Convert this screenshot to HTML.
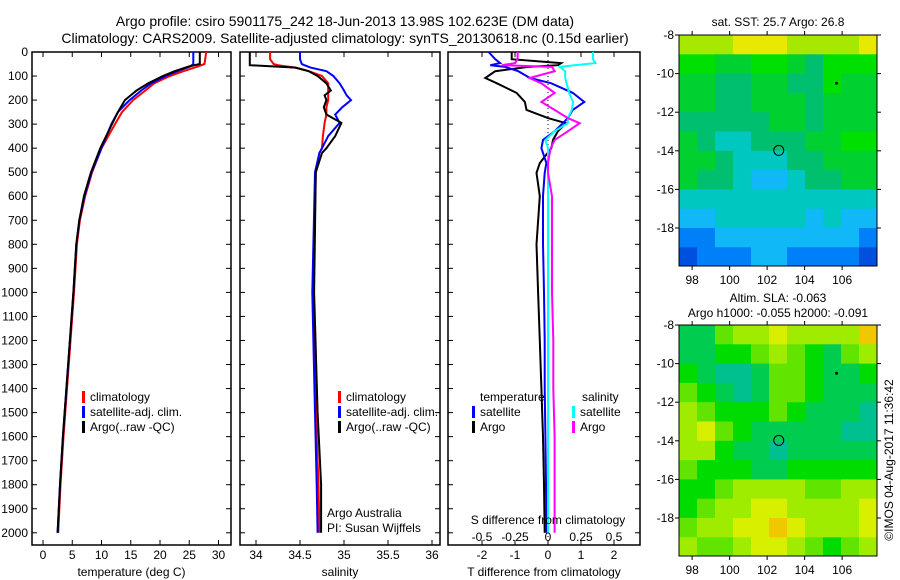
<!DOCTYPE html>
<html><head><meta charset="utf-8">
<style>
html,body{margin:0;padding:0;background:#fff;}
svg{display:block;font-family:"Liberation Sans",sans-serif;}
text{fill:#000;}
</style></head>
<body>
<svg id="c" width="900" height="580" viewBox="0 0 900 580" xmlns="http://www.w3.org/2000/svg">
<text x="345" y="26" font-size="14" text-anchor="middle">Argo profile: csiro 5901175_242 18-Jun-2013 13.98S 102.623E (DM data)</text>
<text x="345" y="43" font-size="14" text-anchor="middle">Climatology: CARS2009. Satellite-adjusted climatology: synTS_20130618.nc (0.15d earlier)</text>
<text x="778" y="26" font-size="12" text-anchor="middle">sat. SST: 25.7 Argo: 26.8</text>
<text x="778" y="302" font-size="12" text-anchor="middle">Altim. SLA: -0.063</text>
<text x="778" y="317" font-size="12" text-anchor="middle">Argo h1000: -0.055 h2000: -0.091</text>
<text transform="translate(893,460) rotate(-90)" font-size="12" text-anchor="middle">©IMOS 04-Aug-2017 11:36:42</text>
</svg>
<script>
// ---- data ----
const depths = [0,50,60,80,100,130,160,200,250,300,400,500,600,700,800,1000,1200,1400,1600,1800,2000];
const tempClim = [27.9,27.6,26.5,24,21.7,19,17.5,15.4,13.5,12.3,10,8.4,7.2,6.3,5.8,5.3,4.7,4.1,3.5,3.0,2.6];
const tempArgo = [26.8,26.8,25,22.5,20.5,18,16,14,12.8,11.8,9.8,8.2,7,6.2,5.7,5.2,4.6,4.0,3.4,2.9,2.5];
const tempSat  = [25.7,25.7,25.2,23,21,18.5,16.8,14.8,12.8,11.7,10,8.3,7.1,6.2,5.7,5.2,4.6,4.0,3.4,2.9,2.5];

const salDepths = [0,30,50,55,65,80,100,130,160,180,200,230,260,295,350,400,420,500,1000,1500,1800,2000];
const salClim = [34.16,34.16,34.2,34.25,34.45,34.6,34.75,34.82,34.82,34.82,34.82,34.8,34.8,34.78,34.76,34.75,34.72,34.68,34.65,34.68,34.71,34.72];
const salSat  = [34.5,34.5,34.52,34.55,34.62,34.8,34.88,34.95,35.0,35.03,35.08,34.98,34.9,34.95,34.82,34.75,34.72,34.67,34.64,34.67,34.69,34.7];
const salArgo = [33.93,33.93,33.93,33.93,34.45,34.6,34.7,34.8,34.85,34.78,34.8,34.77,34.8,34.97,34.9,34.8,34.75,34.68,34.66,34.7,34.74,34.74];

const diffDepths = [0,30,46,55,62,80,108,130,170,208,241,275,296,330,366,400,462,503,600,800,1000,1200,1400,1600,1800,2000];
const tDiffArgo = [-1.1,-1.1,0.4,0.3,-0.6,-1.6,-1.9,-1.55,-0.95,-0.7,-0.65,0,0.55,0.3,0.15,0.1,-0.25,-0.35,-0.25,-0.35,-0.3,-0.25,-0.2,-0.15,-0.12,-0.1];
const tDiffSat  = [-1.8,-1.6,-1.45,-1.75,-1.3,-0.9,-0.55,0.1,0.75,1.1,0.75,0.6,0.45,0.2,-0.15,-0.2,-0.05,-0.1,-0.15,-0.15,-0.12,-0.1,-0.1,-0.08,-0.06,-0.05];
const sDiffSat  = [0.34,0.34,0.36,0.2,0.09,0.13,0.13,0.14,0.16,0.19,0.18,0.15,0.15,0.05,-0.02,0,0,0,0,0,0,0,0,0,0,0];
const sDiffArgo = [-0.23,-0.23,-0.25,-0.35,0.03,0.05,-0.14,-0.05,0.05,-0.05,0.05,0.15,0.24,0.15,0.05,0.02,0,0,0.03,0.03,0.03,0.04,0.04,0.05,0.05,0.05];

const depthTicks = [0,100,200,300,400,500,600,700,800,900,1000,1100,1200,1300,1400,1500,1600,1700,1800,1900,2000];
const tempTicks = [0,5,10,15,20,25,30];
const salTicks = [34,34.5,35,35.5,36];
const salTickLabels = ["34","34.5","35","35.5","36"];
const tDiffTicks = [-2,-1,0,1,2];
const sDiffTicks = [-0.5,-0.25,0,0.25,0.5];
const sDiffTickLabels = ["-0.5","-0.25","0","0.25","0.5"];
const latTicks = [-8,-10,-12,-14,-16,-18];
const lonTicks = [98,100,102,104,106];

const sstPalette = ["#001080","#0050e0","#0080f8","#10b8f8","#00c8c0","#00c070","#00d030","#00e000","#a8e800","#e8e800"];
const sstGrid = [
 [8,8,8,9,9,9,8,8,8,8,9],
 [7,7,6,6,7,7,6,5,7,7,7],
 [6,6,5,5,6,6,5,5,7,6,6],
 [6,6,5,5,6,6,6,5,6,6,6],
 [5,5,5,5,5,6,6,5,6,6,6],
 [6,5,4,4,5,5,5,6,6,7,7],
 [6,6,5,4,4,4,5,5,6,6,6],
 [6,5,5,4,3,3,4,5,5,6,6],
 [4,4,4,4,4,4,4,4,4,4,4],
 [3,3,4,4,4,4,4,3,4,3,3],
 [2,2,3,3,3,3,3,3,3,3,2],
 [1,2,2,2,3,3,2,2,2,2,1]
];
const slaPalette = ["#00c090","#00cc50","#00dc00","#60e400","#a0ec00","#d8f000","#f0c800"];
const slaGrid = [
 [1,1,3,4,4,5,4,4,4,4,6],
 [1,1,2,2,3,4,3,2,1,3,4],
 [2,1,0,0,1,3,3,2,1,1,2],
 [3,2,1,0,1,3,3,2,1,1,1],
 [4,3,2,2,2,3,2,1,1,1,0],
 [4,5,3,2,1,1,1,1,1,0,0],
 [4,4,2,1,1,0,1,1,1,1,1],
 [3,2,2,2,1,1,2,2,2,2,2],
 [2,2,3,4,4,4,4,3,3,4,4],
 [2,3,4,4,5,5,4,4,4,4,5],
 [3,4,4,5,5,6,5,4,4,4,5],
 [4,3,3,4,5,5,4,3,2,3,4]
];
const argoLon = 102.62, argoLat = -13.98;

// ---- drawing ----
const NS="http://www.w3.org/2000/svg";
const svg=document.getElementById('c');
function mk(tag,attrs,parent){const e=document.createElementNS(NS,tag);for(const k in attrs)e.setAttribute(k,attrs[k]);(parent||svg).appendChild(e);return e;}
const yTop=52, yBot=545;
const yD = d => yTop + d*0.2404;

function panel(name,x0,x1,xs,series,ticks,labels,title,showDepth){
  const g=mk('g',{});
  
  
  const r=mk('rect',{x:x0,y:yTop,width:x1-x0,height:yBot-yTop,fill:'none',stroke:'#000','stroke-width':1.5},g);
  
  
  ticks.forEach((t,i)=>{
    const x=xs(t);
    mk('line',{x1:x,x2:x,y1:yTop,y2:yTop+5,stroke:'#000'},g);
    mk('line',{x1:x,x2:x,y1:yBot,y2:yBot-5,stroke:'#000'},g);
    const tx=mk('text',{x:x,y:559,'font-size':12,'text-anchor':'middle'},g);
    tx.textContent=labels[i];
    
    
  });
  depthTicks.forEach(d=>{
    const y=yD(d);
    mk('line',{x1:x0,x2:x0+5,y1:y,y2:y,stroke:'#000'},g);
    mk('line',{x1:x1,x2:x1-5,y1:y,y2:y,stroke:'#000'},g);
    if(showDepth){
      const tx=mk('text',{x:28,y:y+4,'font-size':12,'text-anchor':'end'},g);
      tx.textContent=String(d);
      
      
    }
  });
  const tt=mk('text',{x:(x0+x1)/2,y:576,'font-size':12,'text-anchor':'middle'},g);
  tt.textContent=title;
  
  
  series.forEach(s=>{
    const pts=s.v.map((v,i)=>xs(v).toFixed(1)+','+yD(s.d[i]).toFixed(1)).join(' ');
    const p=mk('polyline',{points:pts,fill:'none',stroke:s.c,'stroke-width':2},g);
    
    
  });
  return g;
}
function legend(x,y,items){
  items.forEach((it,i)=>{
    const yy=y+i*15;
    const b=mk('rect',{x:x,y:yy-10,width:3,height:12,fill:it.c});
    
    
    const t=mk('text',{x:x+8,y:yy,'font-size':12});
    t.textContent=it.t;
    
    
  });
}
const xT=t=>43+t*5.85;
panel('temperature-panel',32,231,xT,[
 {n:'temp-climatology-line',c:'#ff0000',d:depths,v:tempClim},
 {n:'temp-satellite-line',c:'#0000ff',d:depths,v:tempSat},
 {n:'temp-argo-line',c:'#000000',d:depths,v:tempArgo}],tempTicks,tempTicks.map(String),'temperature (deg C)',true);
legend(82,401,[{c:'#f00',t:'climatology'},{c:'#00f',t:'satellite-adj. clim.'},{c:'#000',t:'Argo(..raw -QC)'}]);

const xS=s=>256+(s-34)*88;
panel('salinity-panel',240,440,xS,[
 {n:'sal-climatology-line',c:'#ff0000',d:salDepths,v:salClim},
 {n:'sal-satellite-line',c:'#0000ff',d:salDepths,v:salSat},
 {n:'sal-argo-line',c:'#000000',d:salDepths,v:salArgo}],salTicks,salTickLabels,'salinity',false);
legend(338,401,[{c:'#f00',t:'climatology'},{c:'#00f',t:'satellite-adj. clim.'},{c:'#000',t:'Argo(..raw -QC)'}]);
const a1=mk('text',{x:327,y:517,'font-size':12});a1.textContent='Argo Australia';


const a2=mk('text',{x:327,y:532,'font-size':12});a2.textContent='PI: Susan Wijffels';



const xDT=t=>548+t*33;
const xDS=s=>548+s*132;
mk('line',{x1:548,x2:548,y1:yTop,y2:yBot,stroke:'#000','stroke-dasharray':'1,3'});
panel('difference-panel',448,640,xDT,[
 {n:'tdiff-argo-line',c:'#000000',d:diffDepths,v:tDiffArgo},
 {n:'tdiff-satellite-line',c:'#0000ff',d:diffDepths,v:tDiffSat}],tDiffTicks,tDiffTicks.map(String),'T difference from climatology',false);
[{n:'sdiff-satellite-line',c:'#00ffff',v:sDiffSat},{n:'sdiff-argo-line',c:'#ff00ff',v:sDiffArgo}].forEach(s=>{
  const pts=s.v.map((v,i)=>xDS(v).toFixed(1)+','+yD(diffDepths[i]).toFixed(1)).join(' ');
  const p=mk('polyline',{points:pts,fill:'none',stroke:s.c,'stroke-width':2});
  
  
});
sDiffTicks.forEach((s,i)=>{
  const t=mk('text',{x:xDS(s),y:541,'font-size':12,'text-anchor':'middle'});
  t.textContent=sDiffTickLabels[i];
  
  
});
const st=mk('text',{x:548,y:524,'font-size':12,'text-anchor':'middle'});st.textContent='S difference from climatology';


const lt=mk('text',{x:480,y:401,'font-size':12});lt.textContent='temperature';


const ls=mk('text',{x:582,y:401,'font-size':12});ls.textContent='salinity';


legend(472,416,[{c:'#00f',t:'satellite'},{c:'#000',t:'Argo'}]);
legend(572,416,[{c:'#0ff',t:'satellite'},{c:'#f0f',t:'Argo'}]);

// maps
const mx0=679, mx1=877, lon0=97.3, pxLon=18.75, pxLat=19.3;
function map(name,top,grid,pal){
  const g=mk('g',{});
  
  
  const bottom=top+231;
  const xL=l=>mx0+(l-lon0)*pxLon;
  const yL=l=>top+(-8-l)*pxLat;
  const cw=(mx1-mx0)/grid[0].length;
  grid.forEach((row,r)=>row.forEach((v,c)=>{
    const y=yL(-8-r);
    const h=Math.min(pxLat,bottom-y);
    const cell=mk('rect',{x:mx0+c*cw,y:y,width:cw+0.5,height:h+0.5,fill:pal[v]},g);
    
    
  }));
  const fr=mk('rect',{x:mx0,y:top,width:mx1-mx0,height:bottom-top,fill:'none',stroke:'#000','stroke-width':1},g);
  
  
  latTicks.forEach(l=>{
    const y=yL(l);
    mk('line',{x1:mx0-4,x2:mx0,y1:y,y2:y,stroke:'#000'},g);
    mk('line',{x1:mx1,x2:mx1+4,y1:y,y2:y,stroke:'#000'},g);
    const t=mk('text',{x:674,y:y+4,'font-size':12,'text-anchor':'end'},g);
    t.textContent=String(l);
    
    
  });
  lonTicks.forEach(l=>{
    const x=xL(l);
    mk('line',{x1:x,x2:x,y1:top-4,y2:top,stroke:'#000'},g);
    mk('line',{x1:x,x2:x,y1:bottom,y2:bottom+4,stroke:'#000'},g);
    const t=mk('text',{x:x,y:bottom+18,'font-size':12,'text-anchor':'middle'},g);
    t.textContent=String(l);
    
    
  });
  const c=mk('circle',{cx:xL(argoLon),cy:yL(argoLat),r:5,fill:'none',stroke:'#000','stroke-width':1},g);
  
  
  const m=mk('circle',{cx:xL(105.7),cy:yL(-10.5),r:1.5,fill:'#000'},g);
  
  
}
map('sst-map',35,sstGrid,sstPalette);
map('sla-map',325,slaGrid,slaPalette);
</script>
</body></html>
